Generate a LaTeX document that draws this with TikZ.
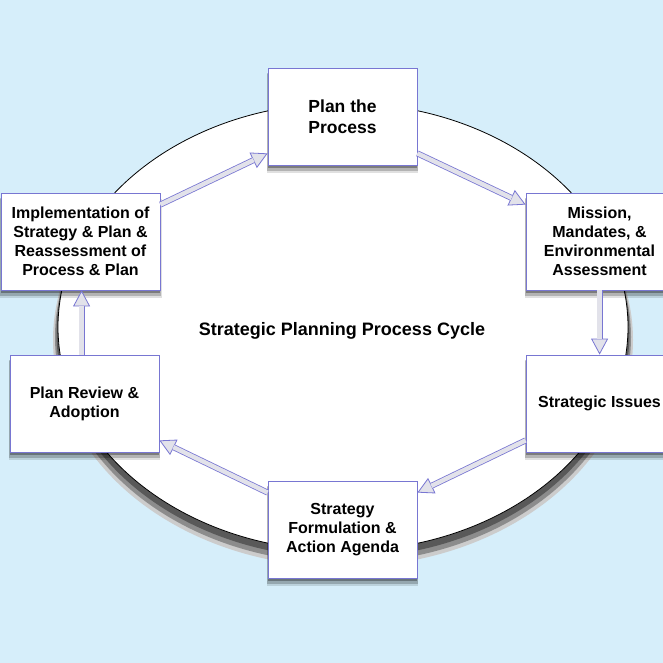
\documentclass[tikz,border=0pt]{standalone}
\usepackage{fontspec}
\setmainfont{Liberation Sans}
\usetikzlibrary{arrows.meta,calc,shadows}
\definecolor{bg}{RGB}{214,238,250}
\definecolor{boxline}{RGB}{120,118,210}
\definecolor{arrfill}{RGB}{226,226,234}
\newcommand\flowarrow[2]{%
  \draw[arrowout] (#1) -- (#2);
  \draw[arrowin] (#1) -- (#2);}
\begin{document}
\begin{tikzpicture}[x=1pt,y=-1pt,
  box/.style={draw=boxline, line width=0.8pt, fill=white,
    minimum width=149pt, minimum height=97pt, inner sep=2pt, align=center,
    font=\fontsize{16}{19}\selectfont\bfseries,
    general shadow={shadow xshift=0pt, shadow yshift=-7pt, shadow scale=1.02, opacity=0.12, fill=black},
    general shadow={shadow xshift=0pt, shadow yshift=-5pt, shadow scale=1.01, opacity=0.2, fill=black},
    general shadow={shadow xshift=0pt, shadow yshift=-3pt, opacity=0.3, fill=black}},
  arrowout/.style={line width=6pt, draw=boxline,
    -{Triangle[length=16pt,width=17pt,line width=0.8pt,fill=arrfill]}},
  arrowin/.style={line width=4.4pt, draw=arrfill, shorten >=15.5pt}]
\useasboundingbox (0,0) rectangle (663,663);
\clip (0,0) rectangle (663,663);
\fill[bg] (0,0) rectangle (663,663);
% cycle ellipse with shadow
\fill[black!20] (343,340) ellipse [x radius=290, y radius=227];
\fill[black!45] (343,337) ellipse [x radius=288, y radius=226];
\fill[black!65] (343,333) ellipse [x radius=286.5, y radius=225];
\draw[fill=white, line width=0.8pt] (343,327) ellipse [x radius=285, y radius=224];
\node[font=\fontsize{18}{21}\selectfont\bfseries] (title) at (342,331) {Strategic Planning Process Cycle};
% boxes
\node[box, font=\fontsize{17.5}{21}\selectfont\bfseries] (plan) at (342.5,116.5) {Plan the\\Process};
\node[box, minimum width=147pt] (mission) at (599.5,241.5) {Mission,\\Mandates, \&\\Environmental\\Assessment};
\node[box, minimum width=147pt] (issues) at (599.5,403.5) {Strategic Issues};
\node[box] (strat) at (342.5,529.5) {Strategy\\Formulation \&\\Action Agenda};
\node[box] (review) at (84.5,403.5) {Plan Review \&\\Adoption};
\node[box, minimum width=159pt] (impl) at (80.5,241.5) {Implementation of\\Strategy \& Plan \&\\Reassessment of\\Process \& Plan};
% connector end points
\coordinate (a1s) at ($(impl.north east)+(0,12)$);
\coordinate (a1e) at ($(plan.south west)+(0,-12)$);
\coordinate (a2s) at ($(plan.south east)+(0,-12)$);
\coordinate (a2e) at ($(mission.north west)+(0,12)$);
\coordinate (a3s) at ($(mission.south west)+(74,0)$);
\coordinate (a3e) at ($(issues.north west)+(74,0)$);
\coordinate (a4s) at ($(issues.south west)+(0,-12)$);
\coordinate (a4e) at ($(strat.north east)+(0,12)$);
\coordinate (a5s) at ($(strat.north west)+(0,12)$);
\coordinate (a5e) at ($(review.south east)+(0,-12)$);
\coordinate (a6s) at ($(review.north west)+(72,0)$);
\coordinate (a6e) at ($(impl.south west)+(81,0)$);
\flowarrow{a1s}{a1e}
\flowarrow{a2s}{a2e}
\flowarrow{a3s}{a3e}
\flowarrow{a4s}{a4e}
\flowarrow{a5s}{a5e}
\flowarrow{a6s}{a6e}
\end{tikzpicture}
\end{document}
